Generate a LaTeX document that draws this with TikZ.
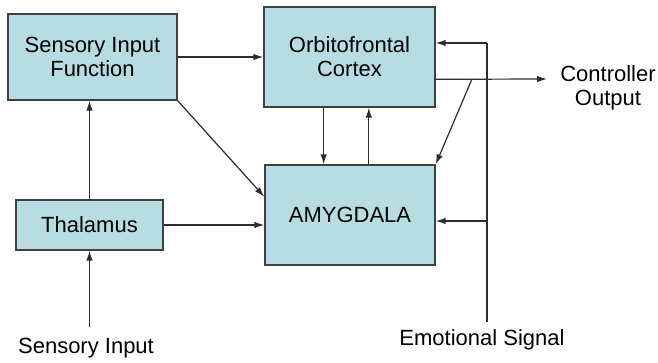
\documentclass[tikz,border=0pt]{standalone}
\usepackage{fontspec}
\setmainfont{Liberation Sans}
\usetikzlibrary{arrows.meta,calc}
\definecolor{boxfill}{RGB}{183,221,227}
\definecolor{boxline}{RGB}{64,64,64}
\definecolor{wire}{RGB}{45,45,45}
\begin{document}
\begin{tikzpicture}[x=1pt,y=-1pt,
  blk/.style={draw=boxline,line width=1.4pt,fill=boxfill,align=center,inner sep=0pt,
    font=\fontsize{22}{24}\selectfont},
  lbl/.style={align=center,inner sep=0pt,font=\fontsize{22}{24}\selectfont},
  conn/.style={draw=wire,line width=1.2pt,-{Latex[length=10pt,width=6.5pt]}},
  wireline/.style={draw=wire,line width=1.2pt}]
\useasboundingbox (0,0) rectangle (658,363);
\node[blk,minimum width=169pt,minimum height=86pt] (sif) at (92.5,57) {Sensory Input\\Function};
\node[blk,minimum width=171pt,minimum height=100pt] (ofc) at (349.5,57) {Orbitofrontal\\Cortex};
\node[blk,minimum width=170pt,minimum height=100pt] (amyg) at (350,215) {AMYGDALA};
\node[blk,minimum width=147pt,minimum height=50pt] (thal) at (89.5,225) {Thalamus};
\node[lbl] (sin) at (86,348) {Sensory Input};
\node[lbl] (ctrl) at (608,88) {Controller\\Output};
\node[lbl] (emo) at (482,340) {Emotional Signal};
\coordinate (sinTop) at (89.5,327);
\coordinate (outStart) at ($(ofc.north east)!0.72!(ofc.south east)$);
\coordinate (outEnd) at (547,79);
\coordinate (branch) at (472,79);
\coordinate (emoBot) at (487,322);
\coordinate (emoTop) at (487,43);
\coordinate (emoMid) at (487,221);
% connectors
\draw[conn] (sif.east) -- (ofc.west);
\draw[conn] (sif.south east) -- ($(amyg.north west)!0.32!(amyg.south west)$);
\draw[conn] (thal.north) -- (thal.north |- sif.south);
\draw[conn] (sinTop) -- (thal.south);
\draw[conn] (thal.east) -- (thal.east -| amyg.west);
\draw[conn] ($(ofc.south west)!0.35!(ofc.south east)$) coordinate (dn) -- (dn |- amyg.north);
\draw[conn] ($(amyg.north west)!0.61!(amyg.north east)$) coordinate (up) -- (up |- ofc.south);
\draw[conn] (outStart) -- (outEnd);
\draw[conn] (branch) -- (amyg.north east);
\draw[wireline] (emoBot) -- (emoTop);
\draw[conn] (emoTop) -- (emoTop -| ofc.east);
\draw[conn] (emoMid) -- (emoMid -| amyg.east);
\end{tikzpicture}
\end{document}
